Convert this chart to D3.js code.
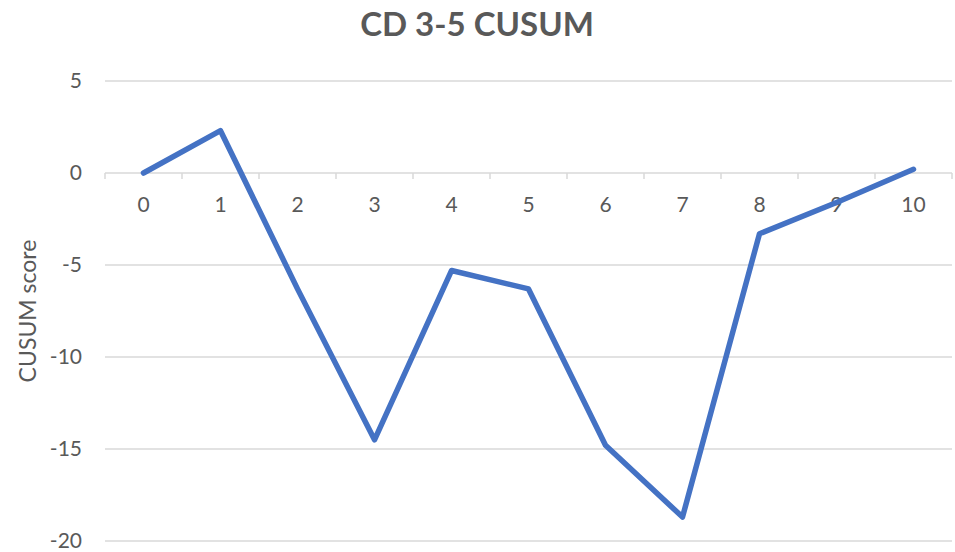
<!DOCTYPE html>
<html>
<head>
<meta charset="utf-8">
<script src="https://cdn.jsdelivr.net/npm/d3@7"></script>
<style>
  body { margin: 0; background: #fff; }
  text { font-family: Lato, "Open Sans", sans-serif; fill: #595959; }
</style>
</head>
<body>
<script>
// chart data
const categories = [0, 1, 2, 3, 4, 5, 6, 7, 8, 9, 10];
const cusumScores = [0, 2.3, -6.3, -14.5, -5.3, -6.3, -14.8, -18.7, -3.3, -1.6, 0.2];
const yTicks = [5, 0, -5, -10, -15, -20];

const width = 955, height = 552;
const plot = { left: 105, right: 952, top: 81, bottom: 541 };

const svg = d3.select("body").append("svg")
    .attr("width", width)
    .attr("height", height);

const x = d3.scaleBand()
    .domain(categories)
    .range([plot.left, plot.right]);

const y = d3.scaleLinear()
    .domain([-20, 5])
    .range([plot.bottom, plot.top]);

// horizontal gridlines
svg.append("g")
    .selectAll("line")
    .data(yTicks)
    .enter()
    .append("line")
    .attr("x1", plot.left)
    .attr("x2", plot.right)
    .attr("y1", d => y(d))
    .attr("y2", d => y(d))
    .attr("stroke", "#d9d9d9")
    .attr("stroke-width", 1.5);

// y tick labels
svg.append("g")
    .selectAll("text")
    .data(yTicks)
    .enter()
    .append("text")
    .attr("x", 82)
    .attr("y", d => y(d))
    .attr("dy", "0.35em")
    .attr("text-anchor", "end")
    .style("font-size", "21px")
    .text(d => d);

// category axis crossing at zero, ticks between categories
const xAxis = svg.append("g").attr("transform", `translate(0,${y(0)})`);
const boundaries = categories.map(c => x(c)).concat([plot.right]);
xAxis.selectAll("line.tick")
    .data(boundaries)
    .enter()
    .append("line")
    .attr("x1", d => d)
    .attr("x2", d => d)
    .attr("y1", 0)
    .attr("y2", 6)
    .attr("stroke", "#d9d9d9")
    .attr("stroke-width", 1.5);
xAxis.selectAll("text")
    .data(categories)
    .enter()
    .append("text")
    .attr("x", d => x(d) + x.bandwidth() / 2)
    .attr("y", 32)
    .attr("dy", "0.35em")
    .attr("text-anchor", "middle")
    .style("font-size", "21px")
    .text(d => d);

// the cusum line
const line = d3.line()
    .x((d, i) => x(categories[i]) + x.bandwidth() / 2)
    .y(d => y(d));

svg.append("path")
    .datum(cusumScores)
    .attr("d", line)
    .attr("fill", "none")
    .attr("stroke", "#4472c4")
    .attr("stroke-width", 5.5)
    .attr("stroke-linejoin", "round")
    .attr("stroke-linecap", "round");

// titles
svg.append("text")
    .attr("x", 477)
    .attr("y", 36)
    .attr("text-anchor", "middle")
    .style("font-size", "33px")
    .style("font-weight", "bold")
    .text("CD 3-5 CUSUM");

svg.append("text")
    .attr("transform", "translate(36,311) rotate(-90)")
    .attr("text-anchor", "middle")
    .style("font-size", "23px")
    .text("CUSUM score");
</script>
</body>
</html>
